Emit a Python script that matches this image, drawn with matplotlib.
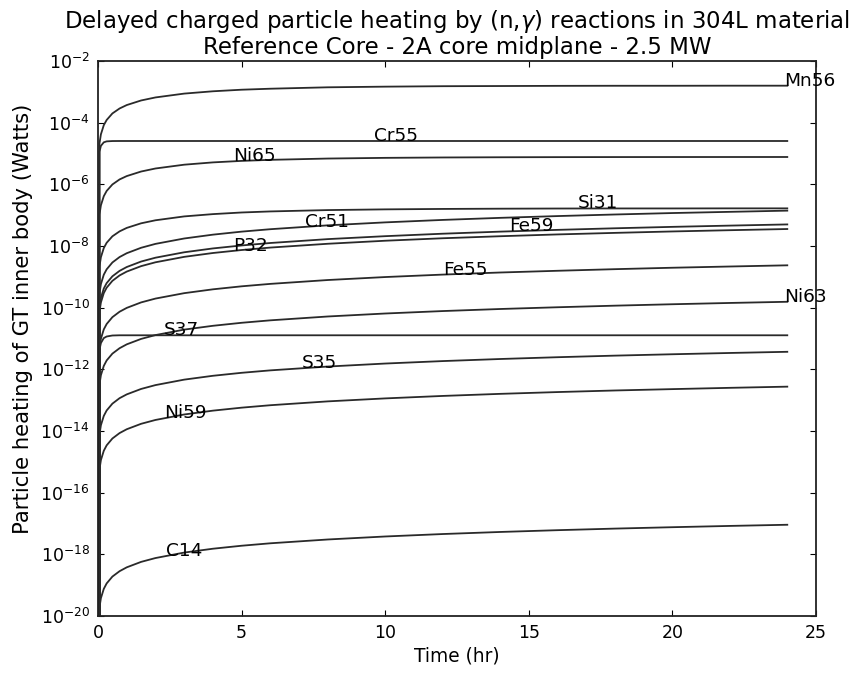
import numpy as np
import matplotlib
matplotlib.use("Agg")
import matplotlib.pyplot as plt
from matplotlib.ticker import NullLocator, LogFormatterSciNotation

# Irradiation time grid (hours)
time_hr = [0, 0.05, 0.1, 0.2, 0.3, 0.5, 0.75, 1, 1.5, 2, 3, 4, 5, 6, 8, 10,
           12, 14, 16, 18, 20, 22, 24]

# Delayed charged particle heating per isotope (Watts)
mn56 = [0, 2.11e-5, 4.19e-5, 8.27e-5, 1.22e-4, 1.99e-4, 2.88e-4, 3.72e-4, 5.24e-4,
        6.57e-4, 8.75e-4, 1.04e-3, 1.17e-3, 1.26e-3, 1.40e-3, 1.47e-3, 1.52e-3,
        1.54e-3, 1.56e-3, 1.57e-3, 1.57e-3, 1.58e-3, 1.58e-3]
cr55 = [0, 1.14e-5, 1.77e-5, 2.30e-5, 2.47e-5, 2.53e-5, 2.54e-5, 2.54e-5, 2.54e-5,
        2.54e-5, 2.54e-5, 2.54e-5, 2.54e-5, 2.54e-5, 2.54e-5, 2.54e-5, 2.54e-5,
        2.54e-5, 2.54e-5, 2.54e-5, 2.54e-5, 2.54e-5, 2.54e-5]
ni65 = [0, 1.05e-7, 2.09e-7, 4.12e-7, 6.10e-7, 9.89e-7, 1.44e-6, 1.85e-6, 2.60e-6,
        3.26e-6, 4.33e-6, 5.14e-6, 5.75e-6, 6.22e-6, 6.85e-6, 7.21e-6, 7.42e-6,
        7.54e-6, 7.61e-6, 7.65e-6, 7.67e-6, 7.68e-6, 7.69e-6]
si31 = [0, 2.18e-9, 4.33e-9, 8.56e-9, 1.27e-8, 2.06e-8, 2.98e-8, 3.86e-8, 5.44e-8,
        6.82e-8, 9.10e-8, 1.08e-7, 1.22e-7, 1.32e-7, 1.46e-7, 1.54e-7, 1.59e-7,
        1.62e-7, 1.64e-7, 1.65e-7, 1.65e-7, 1.66e-7, 1.66e-7]
cr51 = [0, 2.92e-10, 5.83e-10, 1.17e-9, 1.75e-9, 2.92e-9, 4.38e-9, 5.83e-9, 8.75e-9,
        1.17e-8, 1.75e-8, 2.33e-8, 2.92e-8, 3.50e-8, 4.67e-8, 5.83e-8, 7.00e-8,
        8.17e-8, 9.33e-8, 1.05e-7, 1.17e-7, 1.28e-7, 1.40e-7]
fe59 = [0, 1.04e-10, 2.08e-10, 4.17e-10, 6.25e-10, 1.04e-9, 1.56e-9, 2.08e-9, 3.13e-9,
        4.17e-9, 6.25e-9, 8.33e-9, 1.04e-8, 1.25e-8, 1.67e-8, 2.08e-8, 2.50e-8,
        2.92e-8, 3.33e-8, 3.75e-8, 4.17e-8, 4.58e-8, 5.00e-8]
p32 = [0, 7.40e-11, 1.48e-10, 2.96e-10, 4.44e-10, 7.40e-10, 1.11e-9, 1.48e-9, 2.22e-9,
       2.96e-9, 4.44e-9, 5.92e-9, 7.40e-9, 8.88e-9, 1.18e-8, 1.48e-8, 1.78e-8,
       2.07e-8, 2.37e-8, 2.66e-8, 2.96e-8, 3.25e-8, 3.55e-8]
fe55 = [0, 4.92e-12, 9.83e-12, 1.97e-11, 2.95e-11, 4.92e-11, 7.38e-11, 9.83e-11,
        1.48e-10, 1.97e-10, 2.95e-10, 3.93e-10, 4.92e-10, 5.90e-10, 7.87e-10,
        9.83e-10, 1.18e-9, 1.38e-9, 1.57e-9, 1.77e-9, 1.97e-9, 2.16e-9, 2.36e-9]
ni63 = [0, 3.23e-13, 6.46e-13, 1.29e-12, 1.94e-12, 3.23e-12, 4.84e-12, 6.46e-12,
        9.69e-12, 1.29e-11, 1.94e-11, 2.58e-11, 3.23e-11, 3.88e-11, 5.17e-11,
        6.46e-11, 7.75e-11, 9.04e-11, 1.03e-10, 1.16e-10, 1.29e-10, 1.42e-10, 1.55e-10]
s37 = [0, 4.29e-12, 7.13e-12, 1.03e-11, 1.16e-11, 1.25e-11, 1.27e-11, 1.27e-11,
       1.27e-11, 1.27e-11, 1.27e-11, 1.27e-11, 1.27e-11, 1.27e-11, 1.27e-11,
       1.27e-11, 1.27e-11, 1.27e-11, 1.27e-11, 1.27e-11, 1.27e-11, 1.27e-11, 1.27e-11]
s35 = [0, 7.71e-15, 1.54e-14, 3.08e-14, 4.63e-14, 7.71e-14, 1.16e-13, 1.54e-13,
       2.31e-13, 3.08e-13, 4.63e-13, 6.17e-13, 7.71e-13, 9.25e-13, 1.23e-12,
       1.54e-12, 1.85e-12, 2.16e-12, 2.47e-12, 2.78e-12, 3.08e-12, 3.39e-12, 3.70e-12]
ni59 = [0, 5.71e-16, 1.14e-15, 2.28e-15, 3.43e-15, 5.71e-15, 8.56e-15, 1.14e-14,
        1.71e-14, 2.28e-14, 3.43e-14, 4.57e-14, 5.71e-14, 6.85e-14, 9.13e-14,
        1.14e-13, 1.37e-13, 1.60e-13, 1.83e-13, 2.06e-13, 2.28e-13, 2.51e-13, 2.74e-13]
c14 = [0, 1.90e-20, 3.79e-20, 7.58e-20, 1.14e-19, 1.90e-19, 2.84e-19, 3.79e-19,
       5.69e-19, 7.58e-19, 1.14e-18, 1.52e-18, 1.90e-18, 2.28e-18, 3.03e-18,
       3.79e-18, 4.55e-18, 5.31e-18, 6.07e-18, 6.83e-18, 7.58e-18, 8.34e-18, 9.10e-18]

isotopes = ["Mn56", "Cr55", "Ni65", "Si31", "Cr51", "Fe59", "P32", "Fe55",
            "Ni63", "S37", "S35", "Ni59", "C14"]
series = [mn56, cr55, ni65, si31, cr51, fe59, p32, fe55, ni63, s37, s35, ni59, c14]
# time (hr) at which each isotope name is written along its curve
label_time = [23.9, 9.6, 4.7, 16.7, 7.2, 14.3, 4.7, 12.0, 23.9, 2.3, 7.1, 2.3, 2.35]

y_ticks = [1e-20, 1e-18, 1e-16, 1e-14, 1e-12, 1e-10, 1e-8, 1e-6, 1e-4, 1e-2]
x_ticks = [0, 5, 10, 15, 20, 25]

title_top = "Delayed charged particle heating by (n,$\\gamma$) reactions in 304L material"
title_sub = "Reference Core - 2A core midplane - 2.5 MW"

plt.rcParams["font.family"] = ["DejaVu Sans"]
plt.rcParams["mathtext.fontset"] = "dejavusans"

fig = plt.figure(figsize=(8.54, 6.73), dpi=100)
ax_rect = [0.1148, 0.0847, 0.8407, 0.8247]
ax = fig.add_axes(ax_rect)

t = np.array(time_hr, dtype=float)
for name, vals, tl in zip(isotopes, series, label_time):
    v = np.array(vals, dtype=float)
    ax.plot(t, v, color="#2a2a2a", lw=1.3)
    pos = v > 0
    yl = 10 ** np.interp(tl, t[pos], np.log10(v[pos]))
    ax.text(tl, yl, name, fontsize=13.3, color="black")

ax.set_yscale("log")
ax.set_xlim(0, 25)
ax.set_ylim(1e-20, 1e-2)
ax.set_yticks(y_ticks)
ax.yaxis.set_major_formatter(LogFormatterSciNotation())
ax.yaxis.set_minor_locator(NullLocator())
ax.set_xticks(x_ticks)
ax.tick_params(which="both", direction="in", top=True, right=True,
               length=4, width=0.8, labelsize=12.5, pad=6)
for s in ax.spines.values():
    s.set_linewidth(1.3)
    s.set_color("#222222")

ax.set_xlabel("Time (hr)", fontsize=13.4, labelpad=3)
ax.set_ylabel("Particle heating of GT inner body (Watts)", fontsize=15.2)
ax.yaxis.set_label_coords(-0.09, 0.535)

# two-line title: subtitle sits on the axes, main line above it
ax.set_title(title_sub, fontsize=16.5, pad=5)
fig.text(ax_rect[0] + ax_rect[2] / 2, 1 - 28 / 673, title_top, fontsize=16.5,
         ha="center", va="baseline")

fig.savefig("out.png", dpi=100)
